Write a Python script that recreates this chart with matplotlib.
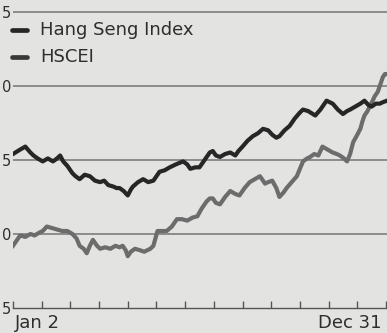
import matplotlib
matplotlib.use("Agg")
import matplotlib.pyplot as plt
import numpy as np

# Day of year (0 = Jan 2) and normalised index levels
hsi_days = [0, 7, 12, 17, 20, 24, 29, 34, 39, 43, 46, 49, 53, 58, 61, 65, 70, 75, 80, 85,
            89, 93, 98, 101, 104, 108, 112, 115, 117, 122, 127, 132, 137, 140, 143, 148, 153, 159, 166, 170,
            173, 178, 182, 186, 189, 192, 195, 198, 202, 207, 212, 217, 220, 224, 229, 234, 239, 244, 249, 253,
            257, 260, 265, 270, 275, 280, 283, 288, 295, 300, 306, 312, 317, 322, 326, 329, 334, 339, 343, 347,
            350, 354, 358, 361, 365]
hsi_values = [105.4, 105.7, 105.9, 105.5, 105.3, 105.1, 104.9, 105.1, 104.9, 105.1,
              105.3, 104.9, 104.6, 104.1, 103.9, 103.7, 104.0, 103.9, 103.6, 103.5,
              103.6, 103.3, 103.2, 103.1, 103.1, 102.9, 102.6, 103.0, 103.2, 103.5,
              103.7, 103.5, 103.6, 103.9, 104.2, 104.3, 104.5, 104.7, 104.9, 104.7,
              104.4, 104.5, 104.5, 104.9, 105.2, 105.5, 105.6, 105.3, 105.2, 105.4,
              105.5, 105.3, 105.6, 105.9, 106.3, 106.6, 106.8, 107.1, 107.0, 106.7,
              106.5, 106.6, 107.0, 107.3, 107.8, 108.2, 108.4, 108.3, 108.0, 108.4,
              109.0, 108.8, 108.4, 108.1, 108.3, 108.4, 108.6, 108.8, 109.0, 108.7,
              108.6, 108.8, 108.8, 108.9, 109.0]

hscei_days = [0, 4, 7, 12, 17, 21, 26, 29, 33, 38, 43, 48, 53, 58, 62, 65, 69, 72, 75, 78,
              82, 85, 90, 95, 100, 104, 107, 110, 112, 115, 119, 124, 128, 131, 134, 137, 139, 141, 145, 150,
              155, 160, 165, 170, 175, 180, 184, 189, 192, 195, 198, 202, 207, 212, 217, 221, 226, 231, 236, 241,
              244, 246, 249, 253, 257, 260, 264, 267, 272, 277, 280, 283, 287, 290, 294, 298, 302, 307, 312, 316,
              319, 323, 326, 329, 332, 336, 339, 341, 343, 346, 348, 351, 353, 356, 358, 361, 363, 365]
hscei_values = [99.2, 99.6, 99.9, 99.8, 100.0, 99.9, 100.1, 100.2, 100.5, 100.4,
                100.3, 100.2, 100.2, 100.0, 99.7, 99.2, 99.0, 98.7, 99.2, 99.6,
                99.2, 99.0, 99.1, 99.0, 99.2, 99.1, 99.2, 98.9, 98.5, 98.8,
                99.0, 98.9, 98.8, 98.9, 99.0, 99.2, 99.7, 100.2, 100.2, 100.2,
                100.5, 101.0, 101.0, 100.9, 101.1, 101.2, 101.7, 102.2, 102.4, 102.4,
                102.1, 102.0, 102.5, 102.9, 102.7, 102.6, 103.1, 103.5, 103.7, 103.9,
                103.6, 103.4, 103.5, 103.6, 103.1, 102.5, 102.8, 103.1, 103.5, 103.9,
                104.4, 104.9, 105.1, 105.2, 105.4, 105.3, 105.9, 105.7, 105.5, 105.4,
                105.3, 105.1, 104.9, 105.4, 106.2, 106.7, 107.1, 107.6, 108.0, 108.3,
                108.6, 109.0, 109.3, 109.6, 110.0, 110.6, 110.8, 110.8]

y_ticks = [95, 100, 105, 110, 115]
y_tick_labels = ["5", "0", "5", "0", "5"]
series_names = ["Hang Seng Index", "HSCEI"]
x_labels = ["Jan 2", "Dec 31"]

bg = "#e3e3e1"
hsi_color = "#262626"
hscei_color = "#6c6c6c"
text_color = "#2e2e2e"

plt.rcParams['font.family'] = ['DejaVu Sans']

fig = plt.figure(figsize=(3.87, 3.33), dpi=100, facecolor=bg)
ax = fig.add_axes([13 / 387, 25 / 333, 1 - 13 / 387, 308 / 333], facecolor=bg)

ax.set_xlim(0, 365)
ax.set_ylim(95, 115.8)

for v in y_ticks[1:]:
    ax.axhline(v, color="#8c8c8c", lw=1.4, zorder=1)

ax.plot(hscei_days, hscei_values, color=hscei_color, lw=3.0, solid_joinstyle="round", zorder=3)
ax.plot(hsi_days, hsi_values, color=hsi_color, lw=3.0, solid_joinstyle="round", zorder=4)

for s in ["top", "right", "left"]:
    ax.spines[s].set_visible(False)
ax.spines["bottom"].set_color("#555555")
ax.spines["bottom"].set_linewidth(1.0)

ax.set_xticks(np.arange(0, 365, 28))
ax.tick_params(axis="x", direction="in", length=5, width=1, color="#555555", labelbottom=False)
ax.set_yticks(y_ticks)
ax.set_yticklabels(y_tick_labels)
ax.tick_params(axis="y", length=0, pad=1.5, labelsize=10.5, labelcolor=text_color)

# legend
leg_items = [(series_names[0], hsi_color, 30), (series_names[1], "#3a3a3a", 57)]
for name, col, ypx in leg_items:
    yf = 1 - ypx / 333
    fig.add_artist(plt.Line2D([12 / 387, 27 / 387], [yf, yf], color=col, lw=3.4,
                              solid_capstyle="round", transform=fig.transFigure))
    fig.text(40 / 387, yf, name, fontsize=13, color=text_color, va="center", ha="left")

# date labels
fig.text(15 / 387, 1 - 323 / 333, x_labels[0], fontsize=13, color=text_color, va="center", ha="left")
fig.text(382 / 387, 1 - 323 / 333, x_labels[1], fontsize=13, color=text_color, va="center", ha="right")

fig.savefig("out.png", dpi=100, facecolor=bg)
